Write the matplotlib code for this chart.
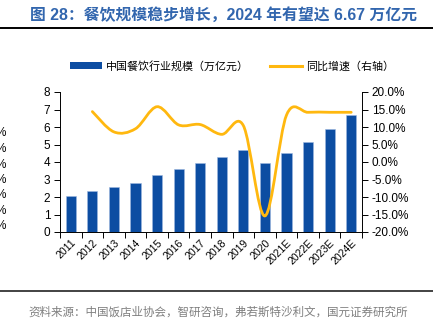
import numpy as np
import matplotlib.pyplot as plt
from matplotlib.lines import Line2D
from matplotlib.patches import Patch
from matplotlib.path import Path
from matplotlib.patches import PathPatch
from matplotlib.ticker import FuncFormatter, MultipleLocator

plt.rcParams['font.family'] = ['Liberation Sans', 'Noto Sans CJK SC', 'DejaVu Sans']

years = ['2011', '2012', '2013', '2014', '2015', '2016', '2017', '2018', '2019',
         '2020', '2021E', '2022E', '2023E', '2024E']
scale = [2.05, 2.35, 2.56, 2.79, 3.23, 3.58, 3.96, 4.27, 4.67, 3.95, 4.53, 5.15, 5.86, 6.67]
growth = [None, 14.4, 8.6, 9.5, 15.8, 10.6, 10.7, 7.9, 10.4, -15.4, 13.4, 14.2, 14.2, 14.2]

bar_color = '#0C4DA2'
line_color = '#FFB80F'

fig = plt.figure(figsize=(4.33, 3.23), dpi=100)
ax = fig.add_axes([60 / 433, 1 - 232 / 323, 302 / 433, 140 / 323])

x = np.arange(len(years))
ax.bar(x, scale, width=0.47, color=bar_color, edgecolor='#9DB8E0', linewidth=0.4, zorder=2)
ax.set_xlim(-0.5, len(years) - 0.5)
ax.set_ylim(0, 8)
ax.yaxis.set_major_locator(MultipleLocator(1))

# category ticks sit between the bars, labels at the bar centres
ax.set_xticks(np.arange(-0.5, len(years), 1.0))
ax.set_xticklabels([])
ax.set_xticks(x, minor=True)
ax.set_xticklabels(years, minor=True, rotation=45, ha='right', rotation_mode='anchor', fontsize=7.6)
ax.tick_params(axis='x', which='minor', length=0, pad=4)
ax.tick_params(axis='x', which='major', length=4, width=0.7, direction='out')
ax.tick_params(axis='y', length=4, width=0.7, labelsize=8.5, pad=3)
for side in ['top', 'right']:
    ax.spines[side].set_visible(False)
ax.spines['left'].set_linewidth(0.7)
ax.spines['bottom'].set_linewidth(0.7)

# growth rate on the right axis, drawn as a smoothed curve
ax2 = ax.twinx()
ax2.set_ylim(-20, 20)
ax2.yaxis.set_major_locator(MultipleLocator(5))
ax2.yaxis.set_major_formatter(FuncFormatter(lambda v, p: f'{v:.1f}%'))
ax2.tick_params(axis='y', length=4, width=0.7, labelsize=8.5, pad=3)
for side in ['top', 'left', 'bottom']:
    ax2.spines[side].set_visible(False)
ax2.spines['right'].set_linewidth(0.7)

pts = np.array([(i, g) for i, g in enumerate(growth) if g is not None], dtype=float)
verts = [tuple(pts[0])]
codes = [Path.MOVETO]
n = len(pts)
for i in range(n - 1):
    p0 = pts[max(i - 1, 0)]
    p1 = pts[i]
    p2 = pts[i + 1]
    p3 = pts[min(i + 2, n - 1)]
    c1 = p1 + (p2 - p0) / 6
    c2 = p2 - (p3 - p1) / 6
    verts += [tuple(c1), tuple(c2), tuple(p2)]
    codes += [Path.CURVE4] * 3
ax2.add_patch(PathPatch(Path(verts, codes), facecolor='none', edgecolor=line_color,
                        linewidth=2.0, capstyle='round', zorder=3))

handles = [Patch(facecolor=bar_color, edgecolor='none'),
           Line2D([], [], color=line_color, linewidth=2.2)]
fig.legend(handles, ['中国餐饮行业规模（万亿元）', '同比增速（右轴）'],
           loc='center left', bbox_to_anchor=(70 / 433, 1 - 66 / 323), ncol=2,
           frameon=False, borderpad=0, borderaxespad=0, handlelength=2.9,
           handletextpad=0.4, columnspacing=1.9,
           prop={'family': ['Noto Sans CJK SC'], 'size': 7.9})

fig.text(30 / 433, 1 - 15 / 323, '图 28：餐饮规模稳步增长，2024 年有望达 6.67 万亿元',
         color='#3266AE', fontsize=11.4, fontweight='bold', va='center',
         family=['Liberation Sans', 'Noto Sans CJK SC'])
fig.add_artist(Line2D([0, 1], [1 - 28 / 323, 1 - 28 / 323], color='black', linewidth=1.4))
fig.add_artist(Line2D([0, 1], [1 - 291 / 323, 1 - 291 / 323], color='#222222', linewidth=1.2))
fig.text(28 / 433, 1 - 312 / 323,
         '资料来源：中国饭店业协会，智研咨询，弗若斯特沙利文，国元证券研究所',
         color='#7F7F7F', fontsize=8.3, va='center', family=['Noto Sans CJK SC'])

# leftover percent labels at the left margin
for yp in [133, 149, 165, 180, 195, 211, 226]:
    fig.text(6 / 433, 1 - yp / 323, '%', fontsize=8.5, ha='right', va='center')

fig.savefig('out.png', dpi=100)
